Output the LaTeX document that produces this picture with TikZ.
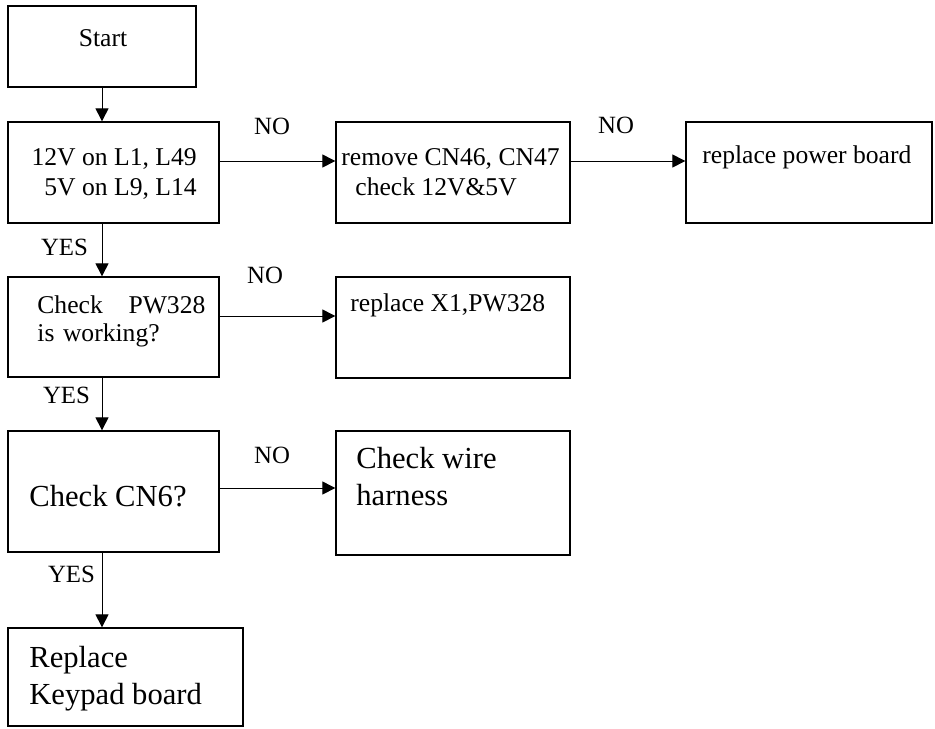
\documentclass[tikz,border=0pt]{standalone}
\usepackage{fontspec}
\setmainfont{Liberation Serif}
\usetikzlibrary{positioning,arrows.meta}

\begin{document}
\begin{tikzpicture}[
    x=0.5pt, y=-0.5pt,
    block/.style={draw, line width=0.65pt, inner sep=0pt},
    txt/.style={inner sep=0pt, anchor=base west, align=left,
                font=\fontsize{12.8}{15}\selectfont},
    big/.style={txt, font=\fontsize{15.3}{18.4}\selectfont},
    lbl/.style={inner sep=0pt, anchor=base, font=\fontsize{12.4}{14}\selectfont},
    arr/.style={-{Triangle[length=6.5pt,width=6.5pt]}, line width=0.5pt},
]
  \useasboundingbox (0,0) rectangle (935,728);
  % Left column
  \node[block, minimum width=94pt,    minimum height=40.5pt] (start) at (102,46.5)  {};
  \node[block, minimum width=105.5pt, minimum height=50.5pt] (volt)  at (113.5,172.5) {};
  \node[block, minimum width=105.5pt, minimum height=50pt]   (pw)    at (113.5,327) {};
  \node[block, minimum width=105.5pt, minimum height=60.5pt] (cn)    at (113.5,491.5) {};
  \node[block, minimum width=117.5pt, minimum height=49pt]   (keypad) at (125.5,677) {};
  % Right side
  \node[block, minimum width=117pt, minimum height=50.5pt] (remove)  at (453,172.5) {};
  \node[block, minimum width=123pt, minimum height=50.5pt] (power)   at (809,172.5) {};
  \node[block, minimum width=117pt, minimum height=50.5pt] (xtal)    at (453,327.5) {};
  \node[block, minimum width=117pt, minimum height=62pt]   (harness) at (453,493) {};
  % Texts (base = last line)
  \node[txt, anchor=base] (tstart) at (103,46) {Start};
  \node[txt, anchor=base east, align=right] (tvolt) at (197,195)
    {12V on L1, L49\\5V on L9, L14};
  \node[txt] (tremove) at (341,195) {remove CN46, CN47\\\hspace*{7pt}check 12V\&5V};
  \node[txt] (tpower) at (702,163) {replace power board};
  \node[txt, text width=84pt, font=\fontsize{12.8}{14.2}\selectfont] (tpw) at (37,313)
    {Check\hfill PW328\\is working?};
  \node[txt] (txtal) at (350,311) {replace X1,PW328};
  \node[big] (tcn) at (29,506) {Check CN6?};
  \node[big] (tharness) at (356,505) {Check wire\\harness};
  \node[big] (tkeypad) at (29,704) {Replace\\Keypad board};
  % Down arrows
  \draw[arr] (start.south) -- (start.south |- volt.north);
  \draw[arr] ([xshift=-5.75pt]volt.south) -- ([xshift=-5.75pt]pw.north);
  \draw[arr] ([xshift=-5.75pt]pw.south) -- ([xshift=-5.75pt]cn.north);
  \draw[arr] ([xshift=-5.75pt]cn.south) -- ([xshift=-5.75pt]cn.south |- keypad.north);
  % Side arrows
  \draw[arr] ([yshift=5.75pt]volt.east) -- ([yshift=5.75pt]remove.west);
  \draw[arr] ([yshift=5.75pt]remove.east) -- ([yshift=5.75pt]power.west);
  \draw[arr] ([yshift=5.5pt]pw.east) -- ([yshift=5.5pt]pw.east -| xtal.west);
  \draw[arr] ([yshift=1.75pt]cn.east) -- ([yshift=1.75pt]cn.east -| harness.west);
  % Labels
  \node[lbl] (no1) at (272,134) {NO};
  \node[lbl] (no2) at (616,133) {NO};
  \node[lbl] (no3) at (265,283) {NO};
  \node[lbl] (no4) at (272,463) {NO};
  \node[lbl] (yes1) at (64.5,255) {YES};
  \node[lbl] (yes2) at (66.5,403) {YES};
  \node[lbl] (yes3) at (71.5,582) {YES};
\end{tikzpicture}
\end{document}
